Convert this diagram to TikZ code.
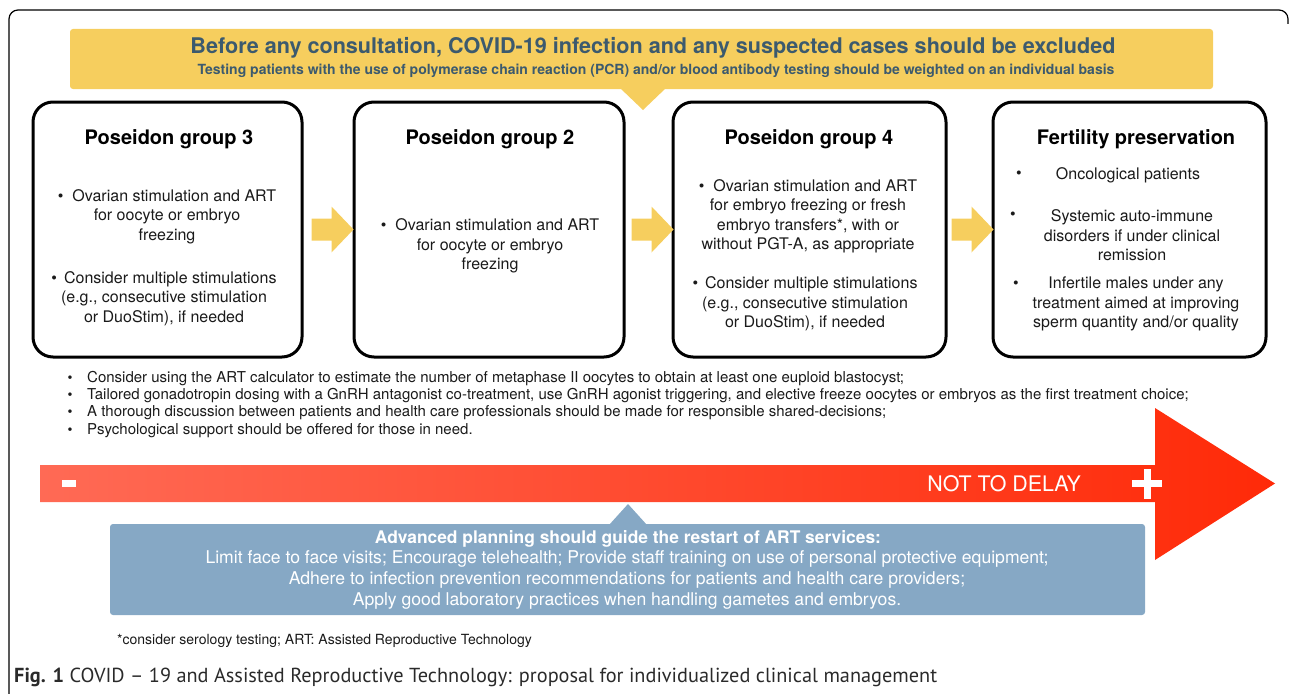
\documentclass[tikz,border=0pt]{standalone}
\usepackage{fontspec}
\setmainfont{TeX Gyre Heros}
\newfontfamily\capfont{PT Sans}
\usetikzlibrary{calc}
\definecolor{ybox}{HTML}{F6CE5E}
\definecolor{ytext}{HTML}{3C5A6E}
\definecolor{bbox}{HTML}{86A8C5}
\definecolor{rleft}{HTML}{FF6A55}
\definecolor{rright}{HTML}{FF2A08}
\definecolor{txt}{HTML}{1A1A1A}
\definecolor{captxt}{HTML}{2A2A2A}
\begin{document}
\begin{tikzpicture}[x=1pt,y=-1pt,
  grp/.style={draw=black, line width=3pt, rounded corners=20pt, fill=white, inner sep=0pt},
  grptitle/.style={font={\fontsize{20}{24}\selectfont\bfseries}, text=black, inner sep=0pt},
  body/.style={font={\fontsize{16}{19.5}\selectfont}, text=txt, align=center, inner sep=0pt},
  blt/.style={font={\fontsize{16}{19.5}\selectfont}, text=txt, inner sep=0pt},
  note/.style={font={\fontsize{15}{17}\selectfont}, text=txt, anchor=west, inner sep=0pt},
  notebullet/.style={font={\fontsize{14}{17}\selectfont}, text=txt, inner sep=0pt},
  bluetxt/.style={font={\fontsize{17.6}{20}\selectfont}, text=white, inner sep=0pt},
  yarrow/.style={fill=ybox}
]
\useasboundingbox (0,0) rectangle (1292,693);
% outer frame
\draw[line width=1.2pt, rounded corners=9pt] (1288,24) -- (1288,10) -- (9,10) -- (9,700);

% yellow banner
\node[fill=ybox, rounded corners=3pt, minimum width=1143pt, minimum height=60pt, inner sep=0pt] (ban) at (641.5,59) {};
\fill[ybox] (620,88) -- (666,88) -- (643,110) -- cycle;
\node[font={\fontsize{21.6}{25}\selectfont\bfseries}, text=ytext, inner sep=0pt] (bt1) at (653,48) {Before any consultation, COVID-19 infection and any suspected cases should be excluded};
\node[font={\fontsize{14}{16}\selectfont\bfseries}, text=ytext, inner sep=0pt] (bt2) at (656,71) {Testing patients with the use of polymerase chain reaction (PCR) and/or blood antibody testing should be weighted on an individual basis};

% group boxes
\node[grp, minimum width=269pt, minimum height=255pt] (g3) at (167.5,229.5) {};
\node[grp, minimum width=270pt, minimum height=255pt] (g2) at (489,229.5) {};
\node[grp, minimum width=273pt, minimum height=255pt] (g4) at (809.5,229.5) {};
\node[grp, minimum width=273pt, minimum height=255pt] (fp) at (1129.5,229.5) {};

\node[grptitle] (t3) at (169,139) {Poseidon group 3};
\node[grptitle] (t2) at (490,139) {Poseidon group 2};
\node[grptitle] (t4) at (809,139) {Poseidon group 4};
\node[grptitle] (tf) at (1136,139) {Fertility preservation};

\node[body] (g3a) at (167,216.5) {\textbullet\hspace{9pt}Ovarian stimulation and ART\\for oocyte or embryo\\freezing};
\node[body] (g3b) at (164,298.5) {\textbullet\hspace{7pt}Consider multiple stimulations\\(e.g., consecutive stimulation\\or DuoStim), if needed};
\node[body] (g2a) at (490,246) {\textbullet\hspace{9pt}Ovarian stimulation and ART\\for oocyte or embryo\\freezing};
\node[body] (g4a) at (808,216.5) {\textbullet\hspace{9pt}Ovarian stimulation and ART\\for embryo freezing or fresh\\embryo transfers*, with or\\without PGT-A, as appropriate};
\node[body] (g4b) at (805,304) {\textbullet\hspace{7pt}Consider multiple stimulations\\(e.g., consecutive stimulation\\or DuoStim), if needed};

\node[blt] (fb1) at (1019,175) {\textbullet};
\node[body] (fa) at (1128,175) {Oncological patients};
\node[blt] (fb2) at (1013,216) {\textbullet};
\node[body] (fbb) at (1132,235.5) {Systemic auto-immune\\disorders if under clinical\\remission};
\node[blt] (fb3) at (1016,285) {\textbullet};
\node[body] (fc) at (1136,304) {Infertile males under any\\treatment aimed at improving\\sperm quantity and/or quality};

% yellow arrows between boxes
\fill[yarrow] ($(g3.east)+(8,0)$) ++(0,-11) -- ++(20,0) -- ++(0,-12) -- ++(22,23) -- ++(-22,23) -- ++(0,-12) -- ++(-20,0) -- cycle;
\fill[yarrow] ($(g2.east)+(6,0)$) ++(0,-11) -- ++(20,0) -- ++(0,-12) -- ++(22,23) -- ++(-22,23) -- ++(0,-12) -- ++(-20,0) -- cycle;
\fill[yarrow] ($(g4.east)+(4,0)$) ++(0,-11) -- ++(20,0) -- ++(0,-12) -- ++(22,23) -- ++(-22,23) -- ++(0,-12) -- ++(-20,0) -- cycle;

% general recommendations
\node[notebullet] (n1b) at (70,379) {\textbullet};
\node[note] (n1) at (87,379) {Consider using the ART calculator to estimate the number of metaphase II oocytes to obtain at least one euploid blastocyst;};
\node[notebullet] (n2b) at (70,396) {\textbullet};
\node[note] (n2) at (87,396) {Tailored gonadotropin dosing with a GnRH antagonist co-treatment, use GnRH agonist triggering, and elective freeze oocytes or embryos as the first treatment choice;};
\node[notebullet] (n3b) at (70,413) {\textbullet};
\node[note] (n3) at (87,413) {A thorough discussion between patients and health care professionals should be made for responsible shared-decisions;};
\node[notebullet] (n4b) at (70,431) {\textbullet};
\node[note] (n4) at (87,431) {Psychological support should be offered for those in need.};

% red arrow
\shade[left color=rleft, right color=rright] (40,465) -- (1155,465) -- (1155,408) -- (1275,483.5) -- (1155,560) -- (1155,502) -- (40,502) -- cycle;
\fill[white] (62,480) rectangle (76,487);
\fill[white] (1132,480) rectangle (1162,487);
\fill[white] (1143.5,468.5) rectangle (1150.5,498.5);
\node[font={\fontsize{21.4}{24}\selectfont}, text=white, anchor=east, inner sep=0pt] (ntd) at (1081,484) {NOT TO DELAY};

% blue box
\node[fill=bbox, rounded corners=3pt, minimum width=1035pt, minimum height=91pt, inner sep=0pt] (adv) at (627.5,569.5) {};
\fill[bbox] (609,525) -- (647,525) -- (628,504) -- cycle;
\node[bluetxt, font={\fontsize{17.4}{20}\selectfont\bfseries}] (a1) at (628,539) {Advanced planning should guide the restart of ART services:};
\node[bluetxt] (a2) at (627,559) {Limit face to face visits; Encourage telehealth; Provide staff training on use of personal protective equipment;};
\node[bluetxt] (a3) at (627,580) {Adhere to infection prevention recommendations for patients and health care providers;};
\node[bluetxt] (a4) at (627,601) {Apply good laboratory practices when handling gametes and embryos.};

% footnote and caption
\node[note, font={\fontsize{14}{16}\selectfont}] (fn) at (117,641) {*consider serology testing; ART: Assisted Reproductive Technology};
\node[anchor=west, inner sep=0pt, text=captxt, font={\capfont\fontsize{20.3}{23}\selectfont}] (cap) at (14,677) {\textbf{Fig. 1} COVID – 19 and Assisted Reproductive Technology: proposal for individualized clinical management};
\end{tikzpicture}
\end{document}
